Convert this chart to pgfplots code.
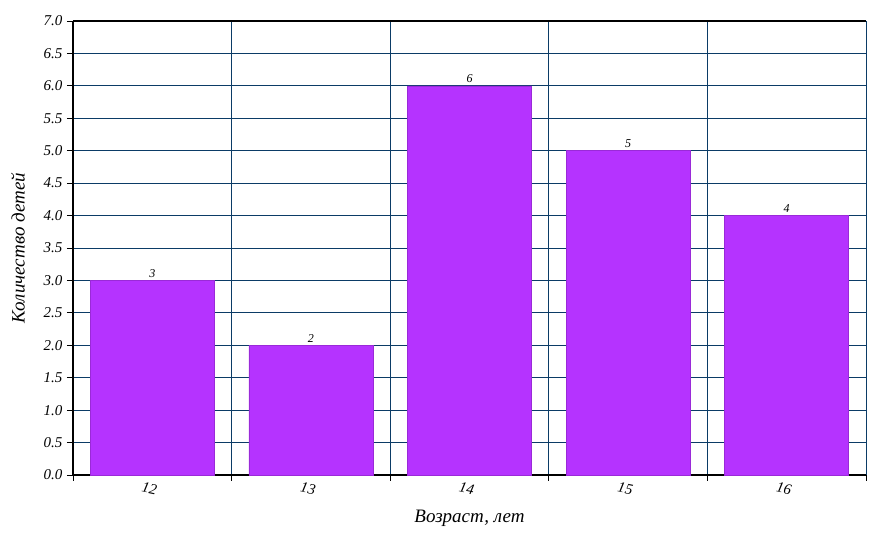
\documentclass[border=0pt]{standalone}
\usepackage{pgfplots}
\pgfplotsset{compat=1.18}
\usepackage{fontspec}
\setmainfont{Liberation Serif}
\definecolor{barfill}{HTML}{B533FF}
\definecolor{baredge}{HTML}{9A2AD8}
\definecolor{gridblue}{HTML}{0B3B66}
\begin{document}
\begin{tikzpicture}
\begin{axis}[
  scale only axis,
  width=793pt, height=454pt,
  xmin=-0.5, xmax=4.5,
  ymin=0, ymax=7,
  axis x line*=bottom, axis y line*=left,
  axis line style={line width=1.6pt, black, -},
  xtick={-0.5,0.5,1.5,2.5,3.5,4.5},
  xticklabels={},
  extra x ticks={0,1,2,3,4},
  extra x tick labels={12,13,14,15,16},
  extra x tick style={grid=none, major tick length=0pt},
  xticklabel style={rotate=-12, anchor=north, yshift=-5pt, font=\fontsize{15}{17}\selectfont\itshape},
  ytick={0,0.5,1,1.5,2,2.5,3,3.5,4,4.5,5,5.5,6,6.5,7},
  yticklabels={0.0,0.5,1.0,1.5,2.0,2.5,3.0,3.5,4.0,4.5,5.0,5.5,6.0,6.5,7.0},
  yticklabel style={font=\fontsize{15}{17}\selectfont\itshape, xshift=-1pt},
  tick align=outside,
  major tick length=6pt,
  tick style={black, line width=0.8pt},
  grid=major,
  major grid style={gridblue, line width=0.9pt},
  xlabel={Возраст, лет},
  ylabel={Количество детей},
  label style={font=\fontsize{19}{21}\selectfont\itshape},
  xlabel style={yshift=-2pt},
  ylabel style={yshift=12pt},
  point meta=explicit symbolic,
  nodes near coords={\pgfplotspointmeta},
  every node near coord/.append style={font=\fontsize{12}{13}\selectfont\itshape, fill=white, inner sep=1.5pt, yshift=1pt},
  clip=false,
]
\addplot[ybar, bar width=124pt, fill=barfill, draw=baredge, line width=0.6pt]
  coordinates {(0,3) [3] (1,2) [2] (2,6) [6] (3,5) [5] (4,4) [4]};
\draw[black, line width=1.2pt] (axis cs:-0.5,7) -- (axis cs:4.5,7);
\end{axis}
\pgfresetboundingbox
\path[use as bounding box] ([xshift=-73pt,yshift=-62pt]current axis.south west) rectangle ([xshift=10pt,yshift=21pt]current axis.north east);
\end{tikzpicture}
\end{document}
